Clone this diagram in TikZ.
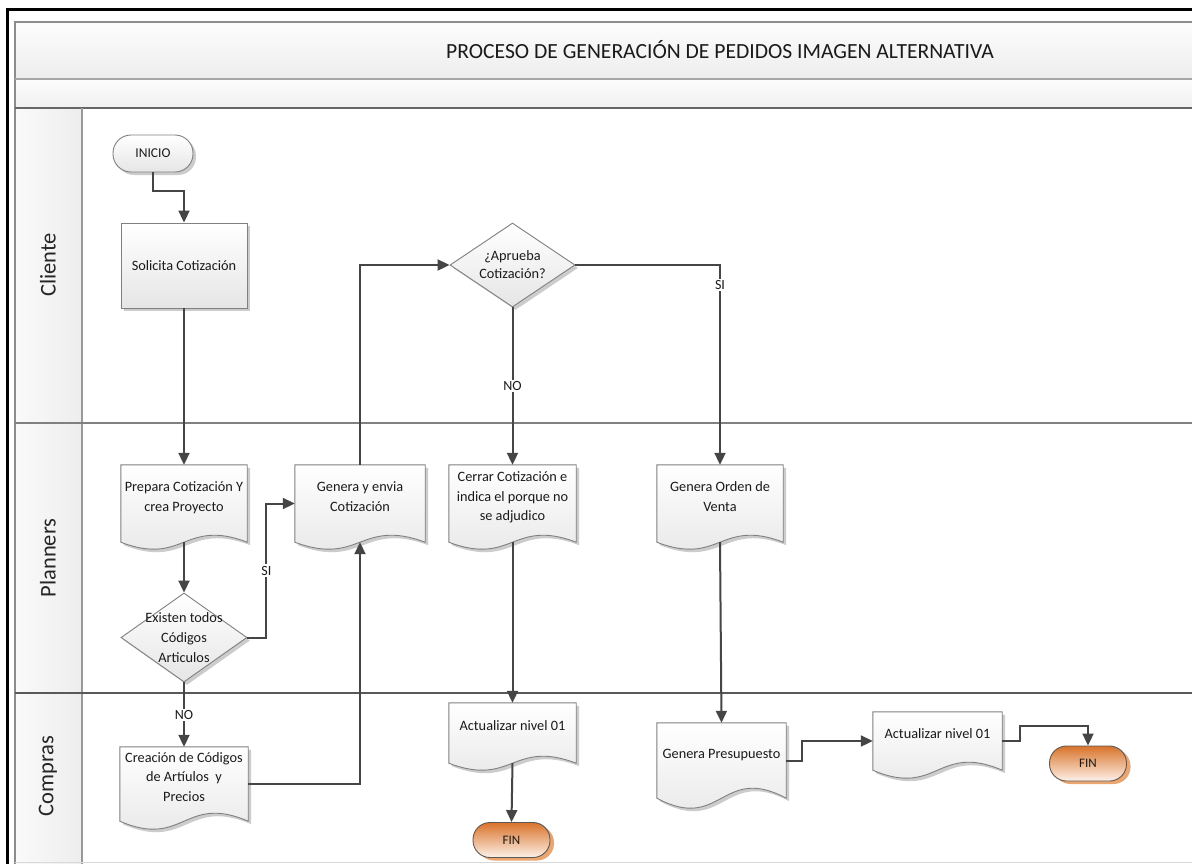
\documentclass[tikz,border=0pt]{standalone}
\usepackage{fontspec}
\setmainfont{Carlito}
\usetikzlibrary{arrows.meta,shapes.geometric,shadows,calc}

\definecolor{ink}{HTML}{454545}
\definecolor{txt}{HTML}{1A1A1A}
\definecolor{fintop}{HTML}{D9732B}
\definecolor{finbot}{HTML}{FDF1E8}
\definecolor{finshadow}{HTML}{EBA56F}

\pgfdeclarelayer{pool}
\pgfdeclarelayer{shapes}
\pgfsetlayers{pool,shapes,main}

% document symbol: rectangle with a wavy lower edge, drawn behind the named node
\newcommand\docshape[2][7]{%
  \begin{pgfonlayer}{shapes}
    \draw[docfill] (#2.north west) -- (#2.north east) -- (#2.south east)
      .. controls ($(#2.south)+(0,-3.46*#1)$) and ($(#2.south)+(0,3.46*#1)$) .. (#2.south west) -- cycle;
  \end{pgfonlayer}}

\begin{document}
\begin{tikzpicture}[x=1pt,y=-1pt,
  every node/.style={font=\fontsize{14.3}{19.5}\selectfont, text=txt},
  lanelabel/.style={font=\fontsize{22.5}{25}\selectfont, rotate=90, text=black!85},
  shapeline/.style={draw=black!50, line width=0.9pt},
  softshadow/.style={drop shadow={shadow xshift=3pt, shadow yshift=-3pt, fill=black!20, opacity=1}},
  docfill/.style={shapeline, top color=white, bottom color=black!10, softshadow},
  procbox/.style={rectangle, shapeline, top color=white, bottom color=black!10, softshadow, align=center, inner sep=2pt},
  docnode/.style={rectangle, inner sep=0pt, align=center, text depth=14pt},
  decision/.style={diamond, shapeline, top color=white, bottom color=black!10, softshadow, inner sep=0pt},
  dectext/.style={align=center, font=\fontsize{14.3}{20}\selectfont},
  startterm/.style={rectangle, rounded corners=18pt, shapeline, top color=white, bottom color=black!10,
    softshadow, minimum width=80pt, minimum height=37pt, inner sep=0pt, font=\fontsize{13.5}{16}\selectfont},
  endterm/.style={rectangle, rounded corners=17pt, draw=black!65, line width=0.9pt, top color=fintop, bottom color=finbot,
    drop shadow={shadow xshift=4pt, shadow yshift=-3pt, fill=finshadow, opacity=1},
    minimum width=77pt, minimum height=35pt, inner sep=0pt, font=\fontsize{13}{16}\selectfont},
  conn/.style={draw=ink, line width=2pt},
  arr/.style={conn, -{Triangle[length=12pt,width=11pt]}},
  lbl/.style={fill=white, inner sep=1.5pt, font=\fontsize{14}{16}\selectfont}
]
\useasboundingbox (0,0) rectangle (1192,863);
\clip (0,0) rectangle (1192,863);

% ---------- swimlane pool ----------
\begin{pgfonlayer}{pool}
  \fill[white] (0,0) rectangle (1192,863);
  \shade[top color=black!1, bottom color=black!7] (15,22) rectangle (1200,79);
  \shade[top color=black!1, bottom color=black!6] (15,79) rectangle (1200,108);
  \shade[left color=black!2, right color=black!7] (15,108) rectangle (82,870);
  \draw[black!45, line width=2pt] (15,870) -- (15,22) -- (1200,22);
  \draw[black!35, line width=1.8pt] (15,79) -- (1200,79);
  \draw[black!60, line width=2.4pt] (15,108) -- (1200,108);
  \draw[black!40, line width=1.4pt] (82,108) -- (82,870);
  \draw[black!50, line width=1.6pt] (15,423) -- (1200,423);
  \draw[black!65, line width=2.4pt] (15,693) -- (1200,693);
  \draw[black!15, line width=1pt] (15,862) -- (1200,862);
  \draw[black, line width=2.6pt] (7.5,870) -- (7.5,9.5) -- (1200,9.5);
\end{pgfonlayer}

\node[font=\fontsize{21.6}{25}\selectfont] (title) at (720,50) {PROCESO DE GENERACIÓN DE PEDIDOS IMAGEN ALTERNATIVA};

\node[lanelabel] (laneC) at (48,265) {Cliente};
\node[lanelabel] (laneP) at (48,558) {Planners};
\node[lanelabel] (laneK) at (48,776) {Compras};

% ---------- flow nodes ----------
\node[startterm] (ini) at (153,153.5) {INICIO};
\node[procbox, minimum width=126pt, minimum height=85pt] (sol) at (184,265.5) {Solicita Cotización};

\node[docnode, minimum width=126pt, minimum height=77pt] (prep) at (184,503.5) {Prepara Cotización Y\\crea Proyecto};
\node[docnode, minimum width=130pt, minimum height=77pt] (gen) at (360,503.5) {Genera y envia\\Cotización};
\node[docnode, minimum width=127pt, minimum height=77pt] (cer) at (512.5,503.5) {Cerrar Cotización e\\indica el porque no\\se adjudico};
\node[docnode, minimum width=126pt, minimum height=77pt] (ord) at (720,503.5) {Genera Orden de\\Venta};
\node[docnode, minimum width=128pt, minimum height=74pt] (cre) at (184,784) {Creación de Códigos\\de Artíulos\ \ y\\Precios};
\node[docnode, minimum width=127pt, minimum height=60pt] (act1) at (512.5,733) {Actualizar nivel 01};
\node[docnode, minimum width=129pt, minimum height=75pt] (pre) at (721.5,760.5) {Genera Presupuesto};
\node[docnode, minimum width=129pt, minimum height=58pt] (act2) at (937.5,741) {Actualizar nivel 01};

\docshape[7]{prep}
\docshape[7]{gen}
\docshape[7]{cer}
\docshape[7]{ord}
\docshape[8]{cre}
\docshape[7]{act1}
\docshape[10]{pre}
\docshape[8]{act2}

\node[decision, minimum width=126pt, minimum height=89pt] (d1) at (184,637.5) {};
\node[dectext] (d1t) at (d1) {Existen todos\\Códigos\\Articulos};
\node[decision, minimum width=125pt, minimum height=84pt] (d2) at (512.5,265) {};
\node[dectext, font=\fontsize{14.3}{18}\selectfont] (d2t) at (d2) {¿Aprueba\\Cotización?};

\node[endterm] (fin1) at (511.5,840) {FIN};
\node[endterm] (fin2) at (1088,763.5) {FIN};

% ---------- connectors ----------
\draw[arr] (ini.south) -- ++(0,19) -| (sol.north);
\draw[arr] (sol.south) -- (prep.north);
\draw[arr] (prep.south) -- (d1.north);
\draw[arr] (d1.east) -- ++(19,0) |- node[lbl, pos=0.25] {SI} (gen.west);
\draw[arr] (d1.south) -- node[lbl] {NO} (cre.north);
\draw[arr] (cre.east) -| (gen.south);
\draw[arr] (gen.north) |- (d2.west);
\draw[arr] (d2.south) -- node[lbl] {NO} (cer.north);
\draw[arr] (d2.east) -| node[lbl, pos=0.55] {SI} (ord.north);
\draw[arr] (cer.south) -- (act1.north);
\draw[arr] (act1.south) -- (fin1.north);
\draw[arr] (ord.south) -- (pre.north);
\draw[arr] (pre.east) -- ++(16,0) |- (act2.west);
\draw[arr] (act2.east) -- ++(18,0) |- ([yshift=20pt]fin2.north) -- (fin2.north);
\end{tikzpicture}
\end{document}
